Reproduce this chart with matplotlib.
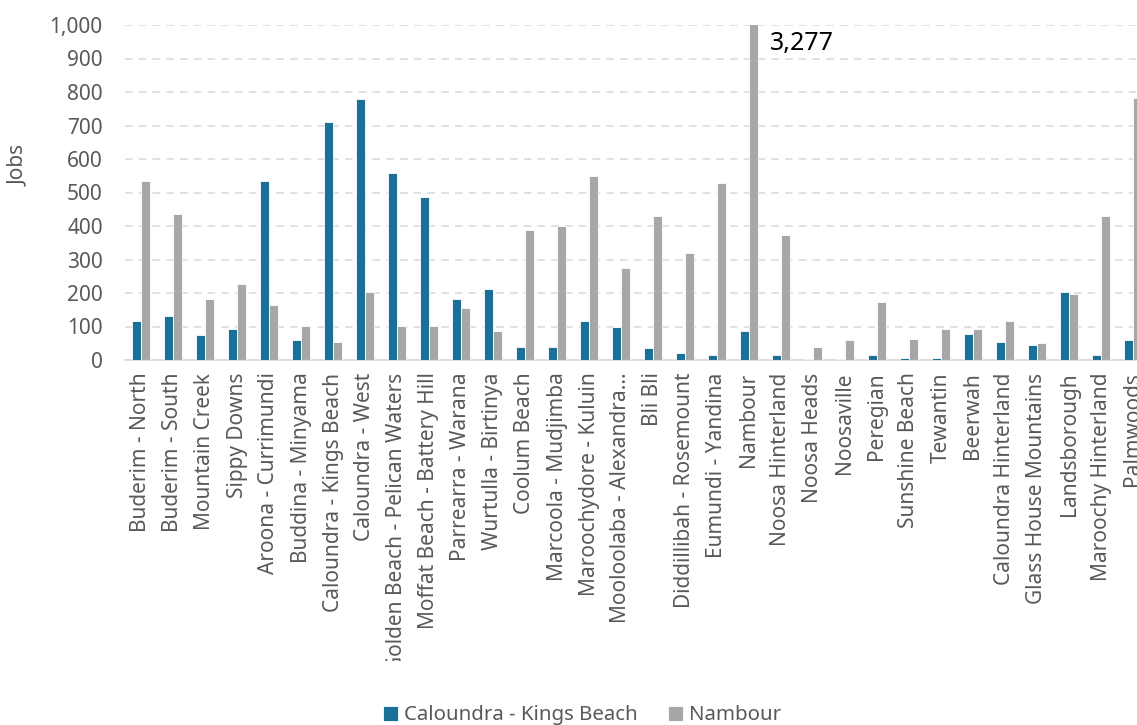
import numpy as np
import matplotlib.pyplot as plt
from matplotlib.transforms import Bbox, TransformedBbox

plt.rcParams['font.family'] = ['Noto Sans', 'DejaVu Sans']

# %% Data
areas = [
    'Buderim - North', 'Buderim - South', 'Mountain Creek', 'Sippy Downs',
    'Aroona - Currimundi', 'Buddina - Minyama', 'Caloundra - Kings Beach',
    'Caloundra - West', 'Golden Beach - Pelican Waters', 'Moffat Beach - Battery Hill',
    'Parrearra - Warana', 'Wurtulla - Birtinya', 'Coolum Beach', 'Marcoola - Mudjimba',
    'Maroochydore - Kuluin', 'Mooloolaba - Alexandra...', 'Bli Bli',
    'Diddillibah - Rosemount', 'Eumundi - Yandina', 'Nambour', 'Noosa Hinterland',
    'Noosa Heads', 'Noosaville', 'Peregian', 'Sunshine Beach', 'Tewantin',
    'Beerwah', 'Caloundra Hinterland', 'Glass House Mountains', 'Landsborough',
    'Maroochy Hinterland', 'Palmwoods',
]
kings_beach = [116, 131, 74, 93, 534, 60, 710, 778, 558, 487, 182, 211, 40, 40,
               116, 98, 35, 21, 16, 88, 16, 3, 3, 16, 7, 7, 79, 54, 45, 202, 16, 59]
nambour = [534, 435, 183, 226, 164, 101, 55, 202, 101, 101, 154, 88, 388, 401,
           549, 274, 430, 320, 529, 3277, 373, 40, 59, 173, 64, 93, 93, 116, 50, 197,
           430, 782]

blue = '#1A7096'
grey = '#A6A7A9'
text_col = '#595959'

# %% Plot
fig = plt.figure(figsize=(11.37, 7.25), dpi=100)
ax = fig.add_axes([125 / 1137, 365 / 725, 1 - 125 / 1137, 335 / 725])

x = np.arange(len(areas))
w = 0.26
ax.bar(x - 0.14, kings_beach, w, color=blue, edgecolor='white', linewidth=0.6,
       label='Caloundra - Kings Beach', zorder=3)
ax.bar(x + 0.14, nambour, w, color=grey, edgecolor='white', linewidth=0.6,
       label='Nambour', zorder=3)

# Nambour is off the scale, so write its value next to the bar
i_nb = areas.index('Nambour')
ax.text(i_nb + 0.65, 945, f'{nambour[i_nb]:,}', fontsize=18, color='black',
        ha='left', va='center')

ax.set_ylim(0, 1000)
ax.set_xlim(-0.5, -0.5 + (1137 - 125) / 32)
ax.set_yticks(np.arange(0, 1001, 100))
ax.set_yticklabels([f'{v:,}' for v in range(0, 1001, 100)])
ax.set_xticks(x)
ax.set_xticklabels(areas, rotation=90)
ax.tick_params(axis='both', length=0, colors=text_col)
ax.tick_params(axis='x', pad=9, labelsize=15)
ax.tick_params(axis='y', pad=16, labelsize=15)
ax.grid(axis='y', color='#D9D9D9', linestyle=(0, (5, 4)), linewidth=1.1, zorder=0)
for s in ['top', 'right', 'left']:
    ax.spines[s].set_visible(False)
ax.spines['bottom'].set_color('#D9D9D9')
ax.spines['bottom'].set_linewidth(1.2)
ax.set_ylabel('Jobs', fontsize=15, color=text_col)
ax.yaxis.set_label_coords(-96 / 1012, 0.58)

# long category names are cut off above the legend
clip = TransformedBbox(Bbox([[0, 64 / 725], [1, 1]]), fig.transFigure)
for lbl in ax.get_xticklabels():
    lbl.set_clip_on(True)
    lbl.set_clip_box(clip)

fig.legend(loc='lower center', bbox_to_anchor=(0.512, -0.026), ncol=2, frameon=False,
           fontsize=14.7, handlelength=0.75, handleheight=0.75, handletextpad=0.3,
           columnspacing=1.45, labelcolor=text_col)

fig.savefig('out.png', dpi=100)
